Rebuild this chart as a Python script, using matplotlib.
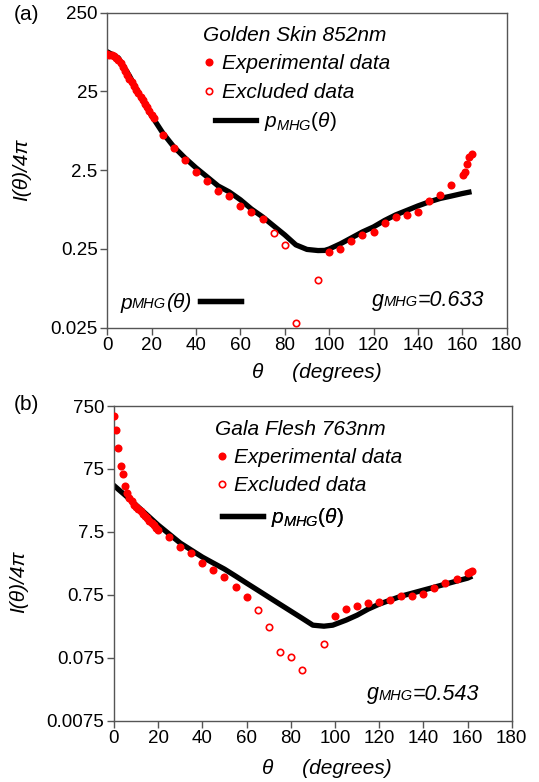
import matplotlib
matplotlib.use('Agg')
import matplotlib.pyplot as plt
from matplotlib.lines import Line2D
from matplotlib.ticker import NullLocator

plt.rcParams['font.family'] = ['Liberation Sans', 'DejaVu Sans']
plt.rcParams['mathtext.fontset'] = 'custom'
plt.rcParams['mathtext.it'] = 'Liberation Sans:italic'
plt.rcParams['mathtext.rm'] = 'Liberation Sans'

# ---- panel (a): Golden Skin 852nm ----
a_exp_deg = [0, 1, 2, 3, 4, 5, 6, 7, 8, 9, 10, 11, 12, 13, 14, 15, 16, 17, 18, 19, 20, 21,
             25, 30, 35, 40, 45, 50, 55, 60, 65, 70,
             100, 105, 110, 115, 120, 125, 130, 135, 140, 145, 150, 155,
             160.4, 161.2, 162.2, 163, 164.2]
a_exp_val = [73.6, 72.6, 71.6, 69.5, 66.5, 62.7, 57.4, 51.1, 45.5, 40.5, 36.0, 32.5, 29.3,
             26.1, 23.5, 21.3, 19.2, 17.3, 15.6, 14.1, 12.6, 11.5,
             7.0, 4.74, 3.37, 2.35, 1.82, 1.36, 1.17, 0.877, 0.743, 0.596,
             0.229, 0.249, 0.315, 0.371, 0.414, 0.538, 0.637, 0.675, 0.726, 1.02, 1.21, 1.62,
             2.17, 2.39, 2.97, 3.71, 4.02]
a_excl_deg = [75, 80, 85, 95]
a_excl_val = [0.395, 0.281, 0.0284, 0.101]
a_fit_deg = [0, 5, 10, 15, 20, 25, 30, 35, 40, 45, 50, 55, 60, 65, 70, 75, 80, 85, 90, 95,
             98, 100, 105, 110, 115, 120, 125, 130, 135, 140, 145, 150, 155, 160, 163]
a_fit_val = [79.3, 66.5, 39.3, 21.3, 12.2, 7.41, 4.93, 3.57, 2.67, 2.05, 1.57, 1.32, 1.05,
             0.80, 0.637, 0.489, 0.376, 0.281, 0.246, 0.238, 0.239, 0.249, 0.289, 0.344,
             0.410, 0.475, 0.574, 0.675, 0.769, 0.877, 0.986, 1.09, 1.17, 1.26, 1.31]
a_yticks = [0.025, 0.25, 2.5, 25, 250]
a_ylabels = ['0.025', '0.25', '2.5', '25', '250']

# ---- panel (b): Gala Flesh 763nm ----
b_exp_deg = [0, 1, 2, 3, 4, 5, 6, 7, 8, 9, 10, 11, 12, 13, 14, 15, 16, 17, 18, 19, 20,
             25, 30, 35, 40, 45, 50, 55, 60,
             100, 105, 110, 115, 120, 125, 130, 135, 140, 145, 150, 155, 160.3, 161, 162]
b_exp_val = [526, 311, 161, 83.4, 62.2, 40.1, 31.0, 25.8, 23.2, 20.0, 18.6, 17.3, 16.1,
             14.4, 13.4, 12.4, 11.1, 10.4, 9.62, 8.61, 8.01,
             6.27, 4.35, 3.41, 2.39, 1.85, 1.43, 1.00, 0.682,
             0.344, 0.44, 0.495, 0.547, 0.567, 0.618, 0.723, 0.723, 0.761, 0.95, 1.14, 1.32,
             1.64, 1.74, 1.79]
b_excl_deg = [65, 70, 75, 80, 85, 95]
b_excl_val = [0.429, 0.228, 0.091, 0.0775, 0.0476, 0.123]
b_fit_deg = [0, 5, 10, 15, 20, 25, 30, 35, 40, 45, 50, 55, 60, 65, 70, 75, 80, 85, 90, 95,
             99, 105, 110, 115, 120, 125, 130, 135, 140, 145, 150, 155, 160, 161]
b_fit_val = [40.8, 28.8, 20.0, 13.9, 9.62, 6.92, 4.98, 3.85, 2.98, 2.39, 1.92, 1.49, 1.15,
             0.891, 0.689, 0.533, 0.413, 0.320, 0.247, 0.238, 0.247, 0.297, 0.356, 0.445,
             0.533, 0.618, 0.715, 0.798, 0.891, 0.993, 1.11, 1.24, 1.38, 1.43]
b_yticks = [0.0075, 0.075, 0.75, 7.5, 75, 750]
b_ylabels = ['0.0075', '0.075', '0.75', '7.5', '75', '750']

RED = '#ff0000'
GREY = '#555555'
TXT = 15


def style_axes(ax, yticks, ylabels):
    ax.set_yscale('log')
    ax.set_ylim(yticks[0], yticks[-1])
    ax.set_yticks(yticks, ylabels)
    ax.yaxis.set_minor_locator(NullLocator())
    ax.set_xlim(0, 180)
    ax.set_xticks(range(0, 181, 20))
    for sp in ax.spines.values():
        sp.set_color(GREY)
        sp.set_linewidth(1.0)
    ax.tick_params(direction='out', length=5, width=1, color=GREY, labelsize=13.5,
                   pad=2, labelcolor='black')


def draw_panel(ax, exp_deg, exp_val, excl_deg, excl_val, fit_deg, fit_val):
    ax.plot(fit_deg, fit_val, color='black', lw=3.8, solid_joinstyle='round', zorder=2)
    ax.plot(exp_deg, exp_val, 'o', color=RED, ms=5.8, mec='none', zorder=3)
    ax.plot(excl_deg, excl_val, 'o', mfc='none', mec=RED, ms=4.6, mew=1.2, zorder=3)


def line_key(ax, x, y, label, pad):
    leg = ax.legend([Line2D([], [], color='black', lw=3.8)], [label], loc='center left',
                    bbox_to_anchor=(x, y), frameon=False, borderpad=0, borderaxespad=0,
                    handlelength=1.95, handletextpad=pad, prop={'size': TXT})
    ax.add_artist(leg)


def add_legends(ax, title, x0, y_title, y_line, x_line):
    h_exp = Line2D([], [], ls='none', marker='o', color=RED, ms=5.8, mec='none')
    h_excl = Line2D([], [], ls='none', marker='o', mfc='none', mec=RED, ms=4.6, mew=1.2)
    leg1 = ax.legend([h_exp, h_excl], ['Experimental data', 'Excluded data'],
                     title=title, loc='upper left', bbox_to_anchor=(x0, y_title),
                     frameon=False, borderpad=0, borderaxespad=0,
                     handlelength=0.6, handletextpad=0.3,
                     labelspacing=0.45, alignment='left',
                     prop={'size': TXT, 'style': 'italic'},
                     title_fontproperties={'size': TXT, 'style': 'italic'})
    ax.add_artist(leg1)
    line_key(ax, x_line, y_line, r'$p_{MHG}(\theta)$', 0.4)


def mixed_text(ax, x, y, parts):
    # pieces of italic text sharing one baseline, sizes differ
    prev = ax.text(x, y, parts[0][0], transform=ax.transAxes, fontsize=parts[0][1],
                   style='italic', va='baseline', ha='left')
    prev_size = parts[0][1]
    for s, size in parts[1:]:
        prev = ax.annotate(s, xy=(1, 0), xycoords=prev, xytext=(0, 0.21 * prev_size),
                           textcoords='offset points', fontsize=size, style='italic',
                           va='baseline', ha='left')
        prev_size = size
    return prev


fig = plt.figure(figsize=(5.39, 7.82), dpi=100)
ax_a = fig.add_axes([0.199, 0.581, 0.741, 0.403])
ax_b = fig.add_axes([0.2115, 0.0784, 0.738, 0.4024])

# panel (a)
style_axes(ax_a, a_yticks, a_ylabels)
draw_panel(ax_a, a_exp_deg, a_exp_val, a_excl_deg, a_excl_val, a_fit_deg, a_fit_val)
add_legends(ax_a, 'Golden Skin 852nm', 0.24, 0.957, 0.653, 0.27)
mixed_text(ax_a, 0.662, 0.07, [('g', 15.5), ('MHG', 10.5), ('=0.633', 15.5)])
mixed_text(ax_a, 0.032, 0.06, [('p', TXT), ('MHG', 10.5), ('(θ)', TXT)])
line_key(ax_a, 0.232, 0.078, '', 0)
ax_a.set_ylabel('I(θ)/4π', fontsize=TXT, style='italic')
ax_a.yaxis.set_label_coords(-0.19, 0.5)
ax_a.set_xlabel('θ     (degrees)', fontsize=TXT, style='italic')
ax_a.xaxis.set_label_coords(0.525, -0.112)
fig.text(14 / 539, 1 - 15 / 782, '(a)', fontsize=TXT, va='center', ha='left')

# panel (b)
style_axes(ax_b, b_yticks, b_ylabels)
draw_panel(ax_b, b_exp_deg, b_exp_val, b_excl_deg, b_excl_val, b_fit_deg, b_fit_val)
add_legends(ax_b, 'Gala Flesh 763nm', 0.255, 0.957, 0.645, 0.272)
mixed_text(ax_b, 0.636, 0.068, [('g', 15.5), ('MHG', 10.5), ('=0.543', 15.5)])
ax_b.set_ylabel('I(θ)/4π', fontsize=TXT, style='italic')
ax_b.yaxis.set_label_coords(-0.215, 0.44)
ax_b.set_xlabel('θ     (degrees)', fontsize=TXT, style='italic')
ax_b.xaxis.set_label_coords(0.535, -0.122)
fig.text(14 / 539, 1 - 405 / 782, '(b)', fontsize=TXT, va='center', ha='left')

fig.savefig('out.png', dpi=100)
